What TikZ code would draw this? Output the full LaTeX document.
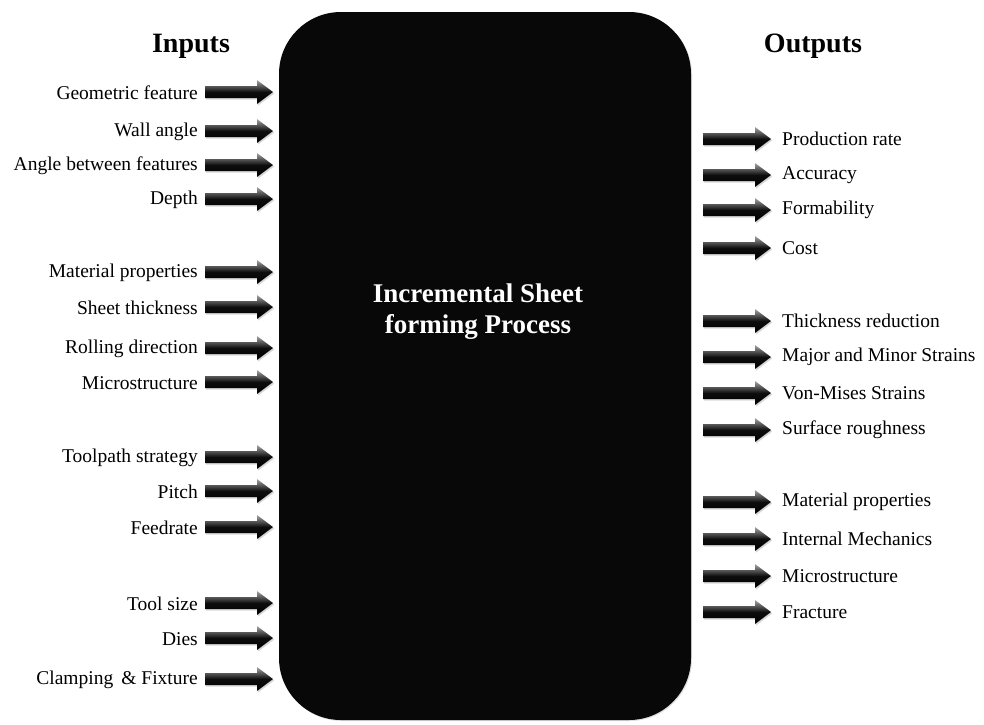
\documentclass[tikz,border=0pt]{standalone}
\usepackage{fontspec}
\setmainfont{Liberation Serif}
\usetikzlibrary{shadows}
\begin{document}
\begin{tikzpicture}[x=1pt,y=-1pt,
  lbl/.style={font=\fontsize{19.5}{22}\selectfont, inner sep=0pt},
  head/.style={font=\fontsize{28}{30}\selectfont\bfseries, inner sep=0pt},
  pics/blockarrow/.style={code={
    \path[top color=black!35, bottom color=black, middle color=black!95,
          drop shadow={opacity=0.3, shadow xshift=1.2pt, shadow yshift=-1.5pt}]
      (0,-6) -- (52,-6) -- (52,-12) -- (68,0) -- (52,12) -- (52,6) -- (0,6) -- cycle;
  }}]
\useasboundingbox (0,0) rectangle (984,724);
\fill[white] (0,0) rectangle (984,724);

% central process block
\path[fill=black!97, rounded corners=62pt,
      drop shadow={opacity=0.25, shadow xshift=1pt, shadow yshift=-1pt}]
  (279,12) rectangle (691,720);
\node[text=white, align=center, inner sep=0pt, font=\fontsize{27}{31}\selectfont\bfseries]
  (proc) at (478,312) {Incremental Sheet\\forming Process};

% column headings
\node[head] (inputs) at (191,46) {Inputs};
\node[head] (outputs) at (813,46) {Outputs};

% inputs: label + arrow into the block
\foreach \t/\y [count=\i] in {
  Geometric feature/92, Wall angle/131, Angle between features/165, Depth/199,
  Material properties/272, Sheet thickness/307, Rolling direction/348, Microstructure/382,
  Toolpath strategy/457, Pitch/491, Feedrate/527,
  Tool size/603, Dies/638, Clamping \,\& Fixture/679}{
  \node[lbl, anchor=east] (in\i) at (198,\y+1) {\t};
  \pic at (205,\y) {blockarrow};
}

% outputs: arrow out of the block + label
\foreach \t/\y [count=\i] in {
  Production rate/139, Accuracy/175, Formability/210, Cost/248,
  Thickness reduction/321, Major and Minor Strains/357, Von-Mises Strains/393, Surface roughness/430,
  Material properties/502, Internal Mechanics/539, Microstructure/576, Fracture/612}{
  \pic at (703,\y) {blockarrow};
  \node[lbl, anchor=west] (out\i) at (782,\y) {\t};
}
\end{tikzpicture}
\end{document}
